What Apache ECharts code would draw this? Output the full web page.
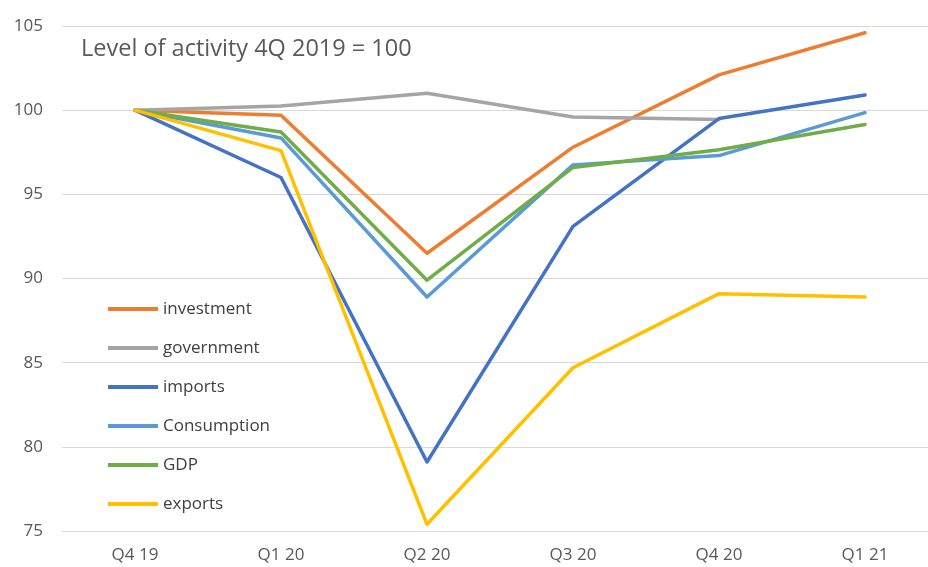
<!DOCTYPE html>
<html>
<head>
<meta charset="utf-8">
<script src="https://cdn.jsdelivr.net/npm/echarts@6/dist/echarts.min.js"></script>
<style>
  html, body { margin: 0; padding: 0; background: #fff; }
  #main { width: 928px; height: 567px; }
</style>
</head>
<body>
<div id="main"></div>
<script>
// quarters on the x axis
const quarters = ['Q4 19', 'Q1 20', 'Q2 20', 'Q3 20', 'Q4 20', 'Q1 21'];

// level of activity, 4Q 2019 = 100
const investment = [100, 99.7, 91.5, 97.8, 102.1, 104.6];
const government = [100, 100.25, 101.0, 99.6, 99.45, null];
const imports = [100, 96.0, 79.1, 93.1, 99.5, 100.9];
const consumption = [100, 98.35, 88.9, 96.75, 97.3, 99.85];
const gdp = [100, 98.7, 89.9, 96.6, 97.65, 99.15];
const exportsData = [100, 97.6, 75.4, 84.7, 89.1, 88.9];

const yTicks = [75, 80, 85, 90, 95, 100, 105];

const font = '"Open Sans", "Liberation Sans", sans-serif';

function line(name, data, color, width) {
  return {
    name: name,
    type: 'line',
    data: data,
    symbol: 'none',
    color: color,
    lineStyle: { width: width, color: color, cap: 'round', join: 'round' },
    emphasis: { disabled: true }
  };
}

const dom = document.getElementById('main');
const myChart = echarts.init(dom, null, { renderer: 'canvas' });

myChart.setOption({
  animation: false,
  backgroundColor: '#ffffff',
  title: {
    text: 'Level of activity 4Q 2019 = 100',
    left: 76,
    top: 32,
    textStyle: { fontFamily: font, fontSize: 23.5, fontWeight: 'normal', color: '#595959' }
  },
  legend: {
    orient: 'vertical',
    left: 103,
    top: 295,
    itemWidth: 50,
    itemHeight: 4,
    itemGap: 21,
    icon: 'rect',
    textStyle: { fontFamily: font, fontSize: 17, color: '#404040', lineHeight: 18 },
    data: ['investment', 'government', 'imports', 'Consumption', 'GDP', 'exports']
  },
  grid: { left: 62, width: 876, top: 26, bottom: 36, outerBoundsMode: 'none' },
  xAxis: {
    type: 'category',
    data: quarters,
    boundaryGap: true,
    axisLine: { show: false },
    axisTick: { show: false },
    axisLabel: { fontFamily: font, fontSize: 17, color: '#595959', margin: 16 }
  },
  yAxis: {
    type: 'value',
    min: yTicks[0],
    max: yTicks[yTicks.length - 1],
    interval: 5,
    axisLine: { show: false },
    axisTick: { show: false },
    axisLabel: { fontFamily: font, fontSize: 17, color: '#595959', margin: 19 },
    splitLine: { lineStyle: { color: '#d9d9d9', width: 1 } }
  },
  series: [
    line('investment', investment, '#ED7D31', 3.5),
    line('government', government, '#A5A5A5', 3.5),
    line('imports', imports, '#4472C4', 3.5),
    line('Consumption', consumption, '#5B9BD5', 3.5),
    line('GDP', gdp, '#70AD47', 3.5),
    line('exports', exportsData, '#FFC000', 3.5)
  ]
});
</script>
</body>
</html>
